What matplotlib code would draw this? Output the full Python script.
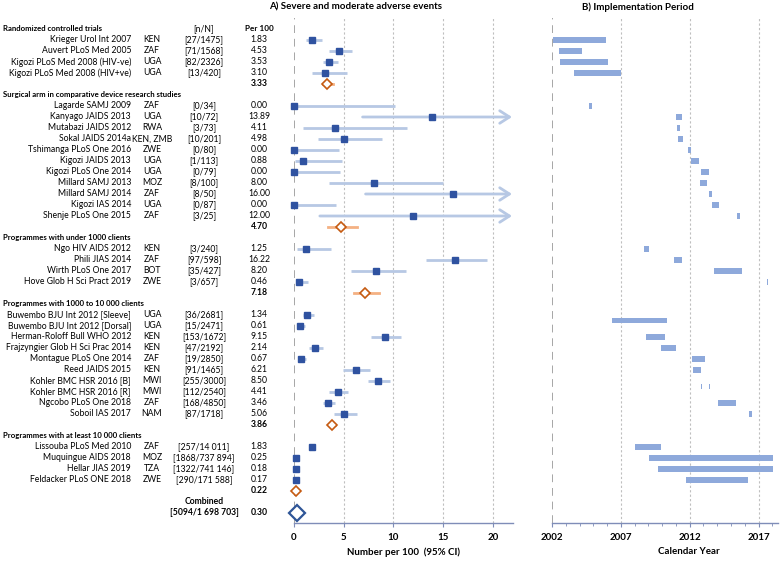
import numpy as np
import matplotlib.pyplot as plt
from matplotlib import transforms

plt.rcParams['font.family'] = ['Lato', 'DejaVu Sans']
row_font = ['Liberation Sans Narrow', 'Lato', 'DejaVu Sans']

# data
groups = ["Randomized controlled trials",
          "Surgical arm in comparative device research studies",
          "Programmes with under 1000 clients",
          "Programmes with 1000 to 10 000 clients",
          "Programmes with at least 10 000 clients"]
group_of = [0]*4 + [1]*11 + [2]*4 + [3]*10 + [4]*4

names = ["Krieger Urol Int 2007", "Auvert PLoS Med 2005", "Kigozi PLoS Med 2008 (HIV-ve)",
         "Kigozi PLoS Med 2008 (HIV+ve)",
         "Lagarde SAMJ 2009", "Kanyago JAIDS 2013", "Mutabazi JAIDS 2012", "Sokal JAIDS 2014a",
         "Tshimanga PLoS One 2016", "Kigozi JAIDS 2013", "Kigozi PLoS One 2014", "Millard SAMJ 2013",
         "Millard SAMJ 2014", "Kigozi IAS 2014", "Shenje PLoS One 2015",
         "Ngo HIV AIDS 2012", "Phili JIAS 2014", "Wirth PLoS One 2017", "Hove Glob H Sci Pract 2019",
         "Buwembo BJU Int 2012 [Sleeve]", "Buwembo BJU Int 2012 [Dorsal]", "Herman-Roloff Bull WHO 2012",
         "Frajzyngier Glob H Sci Prac 2014", "Montague PLoS One 2014", "Reed JAIDS 2015",
         "Kohler BMC HSR 2016 [B]", "Kohler BMC HSR 2016 [R]", "Ngcobo PLoS One 2018", "Soboil IAS 2017",
         "Lissouba PLoS Med 2010", "Muquingue AIDS 2018", "Hellar JIAS 2019", "Feldacker PLoS ONE 2018"]

countries = ["KEN", "ZAF", "UGA", "UGA",
             "ZAF", "UGA", "RWA", "KEN, ZMB", "ZWE", "UGA", "UGA", "MOZ", "ZAF", "UGA", "ZAF",
             "KEN", "ZAF", "BOT", "ZWE",
             "UGA", "UGA", "KEN", "KEN", "ZAF", "KEN", "MWI", "MWI", "ZAF", "NAM",
             "ZAF", "MOZ", "TZA", "ZWE"]

counts = ["[27/1475]", "[71/1568]", "[82/2326]", "[13/420]",
          "[0/34]", "[10/72]", "[3/73]", "[10/201]", "[0/80]", "[1/113]", "[0/79]", "[8/100]",
          "[8/50]", "[0/87]", "[3/25]",
          "[3/240]", "[97/598]", "[35/427]", "[3/657]",
          "[36/2681]", "[15/2471]", "[153/1672]", "[47/2192]", "[19/2850]", "[91/1465]",
          "[255/3000]", "[112/2540]", "[168/4850]", "[87/1718]",
          "[257/14 011]", "[1868/737 894]", "[1322/741 146]", "[290/171 588]"]

rate = [1.83, 4.53, 3.53, 3.10,
        0.00, 13.89, 4.11, 4.98, 0.00, 0.88, 0.00, 8.00, 16.00, 0.00, 12.00,
        1.25, 16.22, 8.20, 0.46,
        1.34, 0.61, 9.15, 2.14, 0.67, 6.21, 8.50, 4.41, 3.46, 5.06,
        1.83, 0.25, 0.18, 0.17]
ci_lo = [1.21, 3.55, 2.88, 1.78,
         0.0, 6.9, 0.87, 2.45, 0.0, 0.1, 0.0, 3.55, 7.2, 0.0, 2.6,
         0.27, 13.3, 5.73, 0.2,
         0.94, 0.27, 7.75, 1.5, 0.37, 4.96, 7.44, 3.56, 2.88, 4.0,
         1.62, 0.24, 0.17, 0.15]
ci_hi = [2.78, 5.80, 4.39, 5.37,
         10.2, 24.1, 11.4, 8.9, 4.56, 4.8, 4.6, 15.0, 29.1, 4.2, 31.2,
         3.7, 19.45, 11.27, 1.37,
         1.98, 1.1, 10.77, 2.95, 1.17, 7.68, 9.66, 5.4, 4.12, 6.37,
         2.07, 0.26, 0.19, 0.19]

# implementation period (years)
p_start = [2002.05, 2002.5, 2002.6, 2003.6,
           2004.67, 2011.0, 2011.1, 2011.15, 2011.85, 2012.1, 2012.85, 2012.75, 2013.4, 2013.65, 2015.46,
           2008.66, 2010.84, 2013.8, 2017.62,
           2006.34, np.nan, 2008.83, 2009.91, 2012.14, 2012.24, 2012.82, 2013.40, 2014.05, 2016.31,
           2008.03, 2009.05, 2009.7, 2011.76]
p_end = [2005.92, 2004.15, 2006.1, 2007.0,
         2004.9, 2011.45, 2011.3, 2011.5, 2012.08, 2012.65, 2013.4, 2013.26, 2013.64, 2014.15, 2015.63,
         2009.03, 2011.45, 2015.82, 2017.68,
         2010.38, np.nan, 2010.23, 2010.98, 2013.13, 2012.82, 2012.88, 2013.46, 2015.36, 2016.53,
         2009.95, 2018.03, 2018.03, 2016.24]

pooled = [3.33, 4.70, 7.18, 3.86, 0.22]
pooled_lo = [2.95, 3.45, 6.04, 3.55, 0.20]
pooled_hi = [3.90, 6.30, 8.55, 4.15, 0.24]

combined = 0.30
combined_lo, combined_hi = 0.29, 0.31
combined_n = "[5094/1 698 703]"

# colours
sq_col = '#2F52A0'
ci_col = '#B7C8E4'
pool_col = '#C55A11'
pool_ci = '#F4B183'
bar_col = '#8EA9DB'
axis_col = '#7F8DB8'

W, H = 783, 561
fig = plt.figure(figsize=(W/100, H/100), dpi=100)
axA = fig.add_axes([294/W, (H-523)/H, 219/W, 505/H])
axB = fig.add_axes([552/W, (H-523)/H, 226/W, 505/H])

xmaxA = 219/9.94
axA.set_xlim(0, xmaxA)
axB.set_xlim(2002, 2002 + 226/13.77)
for ax in (axA, axB):
    ax.set_ylim(44.91, -1)
    for s in ['top', 'right', 'left']:
        ax.spines[s].set_visible(False)
    ax.spines['bottom'].set_color(axis_col)
    ax.spines['bottom'].set_linewidth(1.0)
    ax.set_yticks([])
    ax.tick_params(axis='x', colors=axis_col, length=3, pad=4, labelsize=7, labelcolor='black')

# row layout
rows = []
hdr_rows = []
pool_rows = []
r = 0
for g in range(len(groups)):
    hdr_rows.append(r)
    r += 1
    for i in range(len(names)):
        if group_of[i] == g:
            rows.append(r)
            r += 1
    pool_rows.append(r)
    r += 1
comb_label_row = r
comb_row = r + 1

trans = transforms.blended_transform_factory(fig.transFigure, axA.transData)

def put(px, row, s, ha='center', bold=False, fs=6.2):
    fig.text(px/W, row, s, transform=trans, ha=ha, va='center', fontsize=fs,
             family=row_font, fontweight='bold' if bold else 'normal')

for g, hr in enumerate(hdr_rows):
    put(3, hr, groups[g], ha='left', bold=True, fs=5.6)
put(204, 0, "[n/N]")
put(259, 0, "Per 100", bold=True, fs=5.9)

for i, row in enumerate(rows):
    put(131, row, names[i], ha='right')
    put(152, row, countries[i])
    put(204, row, counts[i])
    put(259, row, "%.2f" % rate[i])

for g, pr in enumerate(pool_rows):
    put(259, pr, "%.2f" % pooled[g], bold=True)
put(204, comb_label_row, "Combined", bold=True)
put(204, comb_row, combined_n, bold=True)
put(259, comb_row, "%.2f" % combined, bold=True)

# panel A
axA.axvline(0, color='#A6A6A6', ls=(0, (4, 3)), lw=1.4, zorder=1)
for v in [5, 10, 15, 20]:
    axA.axvline(v, color='#BFBFBF', ls=(0, (2, 2)), lw=0.8, zorder=1)

for i, row in enumerate(rows):
    if ci_hi[i] > xmaxA:
        axA.annotate('', xy=(xmaxA - 0.1, row), xytext=(ci_lo[i], row),
                     arrowprops=dict(arrowstyle='->,head_length=0.7,head_width=0.45',
                                     color=ci_col, lw=2, shrinkA=0, shrinkB=0), zorder=2)
    else:
        axA.plot([ci_lo[i], ci_hi[i]], [row, row], color=ci_col, lw=2, solid_capstyle='butt', zorder=2)
    axA.plot(rate[i], row, 's', color=sq_col, ms=4.3, zorder=3, clip_on=False)

for g, pr in enumerate(pool_rows):
    axA.plot([pooled_lo[g], pooled_hi[g]], [pr, pr], color=pool_ci, lw=2, zorder=2)
    axA.plot(pooled[g], pr, 'D', mfc='white', mec=pool_col, mew=1.2, ms=5, zorder=3, clip_on=False)

axA.plot([combined_lo, combined_hi], [comb_row, comb_row], color=ci_col, lw=2, zorder=2)
axA.plot(combined, comb_row, 'D', mfc='white', mec='#2F5597', mew=1.6, ms=8.5, zorder=3, clip_on=False)

axA.set_xticks([0, 5, 10, 15, 20])
for lab in axA.get_xticklabels():
    lab.set_fontweight('bold')

# panel B
axB.axvline(2002, color='#A6A6A6', ls=(0, (4, 3)), lw=1.4, zorder=1)
for v in [2007, 2012, 2017]:
    axB.axvline(v, color='#BFBFBF', ls=(0, (2, 2)), lw=0.8, zorder=1)

for i, row in enumerate(rows):
    if np.isnan(p_start[i]):
        continue
    y = row
    if names[i] in ("Buwembo BJU Int 2012 [Sleeve]", "Kohler BMC HSR 2016 [B]"):
        y = row + 0.5
    if names[i] == "Kohler BMC HSR 2016 [R]":
        y = row - 0.5
    axB.barh(y, p_end[i] - p_start[i], left=p_start[i], height=0.48, color=bar_col, zorder=2)

axB.set_xticks([2002, 2007, 2012, 2017])
axB.set_xticks(np.arange(2002, 2019), minor=True)
axB.tick_params(axis='x', which='minor', colors=axis_col, length=2)
for lab in axB.get_xticklabels():
    lab.set_fontweight('bold')

# titles and labels
fig.text(356/W, (H-7)/H, "A) Severe and moderate adverse events", ha='center', va='center',
         fontsize=7, fontweight='bold')
fig.text(638/W, (H-7)/H, "B) Implementation Period", ha='center', va='center',
         fontsize=7, fontweight='bold')
fig.text(403/W, (H-552)/H, "Number per 100  (95% CI)", ha='center', va='center',
         fontsize=7, fontweight='bold')
fig.text(689/W, (H-551)/H, "Calendar Year", ha='center', va='center',
         fontsize=7, fontweight='bold')

plt.savefig("out.png", dpi=100)
